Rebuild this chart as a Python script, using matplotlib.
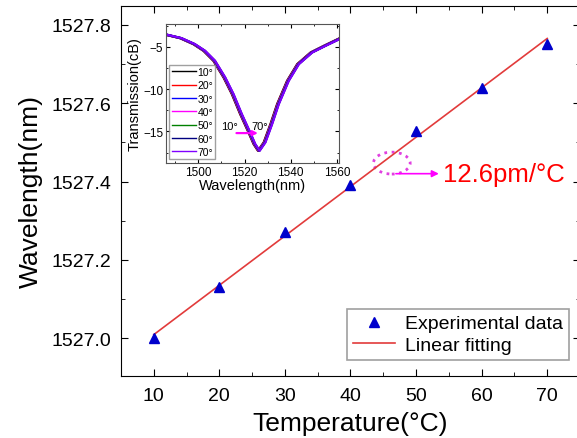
import numpy as np
import matplotlib
matplotlib.use('Agg')
import matplotlib.pyplot as plt
from matplotlib.patches import Ellipse
from matplotlib.ticker import MultipleLocator, FormatStrFormatter

# main data: dip wavelength vs temperature
temperature = [10, 20, 30, 40, 50, 60, 70]
wavelength = [1527.00, 1527.13, 1527.27, 1527.39, 1527.53, 1527.64, 1527.75]

# inset: transmission spectrum (10 degC curve)
spec_wl = [1486.0, 1492.0, 1497.8, 1502.2, 1506.5, 1510.9, 1514.5, 1518.1, 1521.7,
           1523.9, 1525.8, 1528.3, 1531.2, 1534.1, 1538.4, 1542.8, 1548.6, 1554.3, 1561.0]
spec_tr = [-3.58, -3.97, -4.68, -5.47, -6.65, -8.62, -10.59, -12.96, -15.12,
           -16.50, -17.29, -16.30, -14.14, -11.77, -9.02, -7.04, -5.66, -4.88, -4.00]
spec_labels = ['10°', '20°', '30°', '40°', '50°', '60°', '70°']
spec_colors = ['#000000', '#ff0000', '#0000ff', '#ff00ff', '#008000', '#000080', '#8000ff']

plt.rcParams['font.family'] = ['Liberation Sans', 'DejaVu Sans']
plt.rcParams['xtick.direction'] = 'in'
plt.rcParams['ytick.direction'] = 'in'

fig = plt.figure(figsize=(5.77, 4.39), dpi=100)
ax = fig.add_axes([0.2097, 0.1419, 0.7955, 0.8428])

# linear fit of the measured points
k, b = np.polyfit(temperature, wavelength, 1)
xfit = np.array([temperature[0], temperature[-1]])
ax.plot(temperature, wavelength, linestyle='none', marker='^', color='#0000cc',
        markersize=7, label='Experimental data', zorder=3)
ax.plot(xfit, k * xfit + b, color='#e23b3b', lw=1.2, label='Linear fitting', zorder=2)

ax.set_xlim(5, 75)
ax.set_ylim(1526.904, 1527.849)
ax.xaxis.set_major_locator(MultipleLocator(10))
ax.xaxis.set_minor_locator(MultipleLocator(5))
ax.yaxis.set_major_locator(MultipleLocator(0.2))
ax.yaxis.set_minor_locator(MultipleLocator(0.1))
ax.yaxis.set_major_formatter(FormatStrFormatter('%.1f'))
ax.tick_params(which='both', top=True, right=True, labelsize=14)
ax.tick_params(which='major', length=5)
ax.tick_params(which='minor', length=3)
ax.tick_params(axis='x', pad=8)
ax.tick_params(axis='y', pad=7)
ax.set_xlabel('Temperature(°C)', fontsize=19, labelpad=5)
ax.set_ylabel('Wavelength(nm)', fontsize=19, labelpad=6)

leg = ax.legend(loc='lower right', bbox_to_anchor=(0.976, 0.043), borderaxespad=0,
                fontsize=14, handlelength=2.2, fancybox=False, edgecolor='#888888',
                handletextpad=0.5, borderpad=0.3, labelspacing=0.2)
leg.get_frame().set_linewidth(1.2)

# slope annotation
ax.add_patch(Ellipse((46.3, 1527.447), 5.6, 0.056, fill=False, edgecolor='#e040e0',
                     linestyle=':', lw=2))
ax.annotate('', xy=(53.9, 1527.42), xytext=(46.5, 1527.42),
            arrowprops=dict(arrowstyle='-|>', color='#ff00ff', lw=1.2))
ax.text(54.1, 1527.418, '12.6pm/°C', color='#ff0000', fontsize=18.5, va='center', ha='left')

# inset spectra
ins = fig.add_axes([0.2877, 0.6264, 0.3003, 0.3166])
shifts = [w - wavelength[0] for w in wavelength]
for sh, lab, col in zip(shifts, spec_labels, spec_colors):
    ins.plot(np.array(spec_wl) + sh, spec_tr, color=col, lw=1.6, label=lab)
ins.set_xlim(1486, 1561)
ins.set_ylim(-18.74, -2.3)
ins.xaxis.set_major_locator(MultipleLocator(20))
ins.xaxis.set_minor_locator(MultipleLocator(10))
ins.yaxis.set_major_locator(MultipleLocator(5))
ins.yaxis.set_minor_locator(MultipleLocator(2.5))
ins.tick_params(which='both', top=True, right=True, labelsize=8.5, pad=2)
ins.tick_params(which='major', length=3)
ins.tick_params(which='minor', length=1.5)
ins.set_xlabel('Wavelength(nm)', fontsize=10.5, labelpad=0)
ins.set_ylabel('Transmission(cB)', fontsize=10.5, labelpad=1)
for s in ins.spines.values():
    s.set_color('#555555')
ins.legend(loc='lower left', bbox_to_anchor=(0.02, 0.029), borderaxespad=0, fontsize=7.5,
           handlelength=2.3, fancybox=False, edgecolor='#888888', borderpad=0.2,
           labelspacing=0.32, handletextpad=0.2)
for line in ins.get_legend().get_lines():
    line.set_linewidth(1.0)
ins.annotate('', xy=(1527.0, -15.2), xytext=(1515.3, -15.2),
             arrowprops=dict(arrowstyle='-|>', color='#ff00ff', lw=1.6, mutation_scale=7))
ins.text(1513.6, -14.4, '10°', fontsize=8, ha='center', va='center')
ins.text(1526.6, -14.4, '70°', fontsize=8, ha='center', va='center')

fig.savefig('out.png', dpi=100)
